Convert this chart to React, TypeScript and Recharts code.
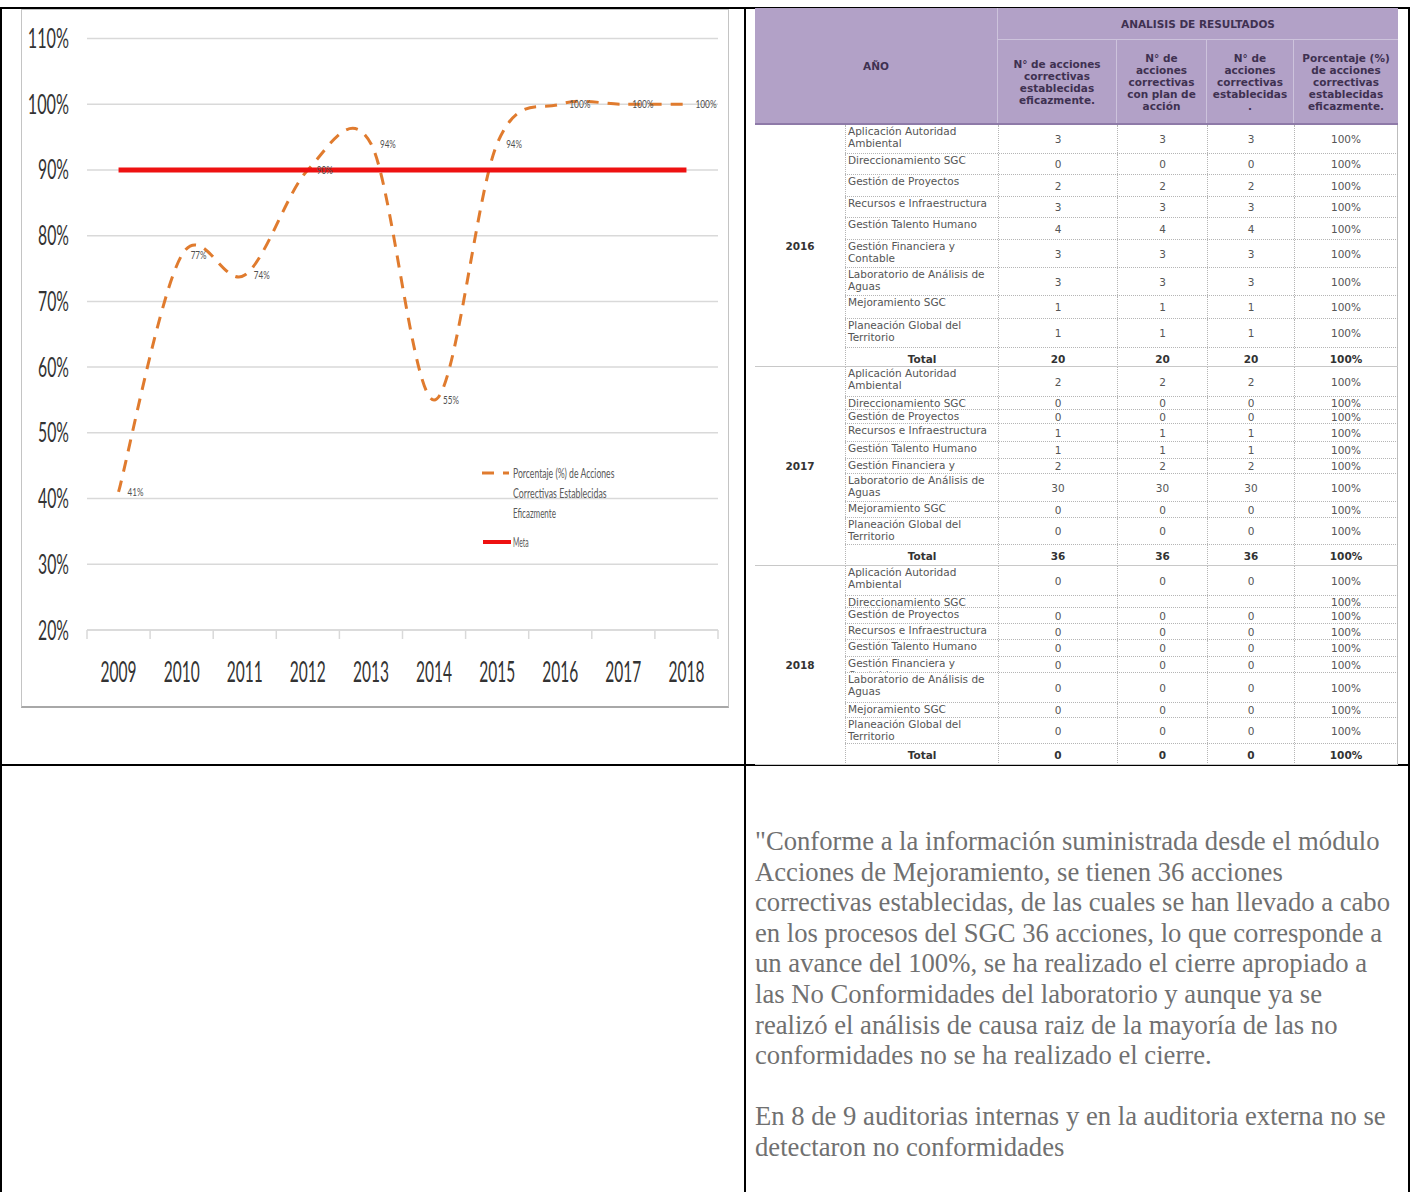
import React from 'react';
import { LineChart, Line, XAxis, YAxis, CartesianGrid, Legend, LabelList } from 'recharts';

// ---------------- chart data ----------------
const years = ['2009', '2010', '2011', '2012', '2013', '2014', '2015', '2016', '2017', '2018'];
const pctEficaz = [41, 77, 74, 90, 94, 55, 94, 100, 100, 100];
const metaValues = [90, 90, 90, 90, 90, 90, 90, 90, 90, 90];
const yTicks = [20, 30, 40, 50, 60, 70, 80, 90, 100, 110];
const SERIES_PCT = 'Porcentaje (%) de Acciones Correctivas Establecidas Eficazmente';
const SERIES_META = 'Meta';
const legendOrder = [SERIES_PCT, SERIES_META];

// ---------------- table data ----------------
const procesos = [
  'Aplicación Autoridad Ambiental',
  'Direccionamiento SGC',
  'Gestión de Proyectos',
  'Recursos e Infraestructura',
  'Gestión Talento Humano',
  'Gestión Financiera y Contable',
  'Laboratorio de Análisis de Aguas',
  'Mejoramiento SGC',
  'Planeación Global del Territorio',
];
const tableYears = ['2016', '2017', '2018'];
const eficaz2016 = [3, 0, 2, 3, 4, 3, 3, 1, 1];
const plan2016 = [3, 0, 2, 3, 4, 3, 3, 1, 1];
const estab2016 = [3, 0, 2, 3, 4, 3, 3, 1, 1];
const eficaz2017 = [2, 0, 0, 1, 1, 2, 30, 0, 0];
const plan2017 = [2, 0, 0, 1, 1, 2, 30, 0, 0];
const estab2017 = [2, 0, 0, 1, 1, 2, 30, 0, 0];
const eficaz2018 = [0, null, 0, 0, 0, 0, 0, 0, 0];
const plan2018 = [0, null, 0, 0, 0, 0, 0, 0, 0];
const estab2018 = [0, null, 0, 0, 0, 0, 0, 0, 0];
const pct2016 = ['100%', '100%', '100%', '100%', '100%', '100%', '100%', '100%', '100%'];
const pct2017 = ['100%', '100%', '100%', '100%', '100%', '100%', '100%', '100%', '100%'];
const pct2018 = ['100%', '100%', '100%', '100%', '100%', '100%', '100%', '100%', '100%'];
const totals2016 = ['20', '20', '20', '100%'];
const totals2017 = ['36', '36', '36', '100%'];
const totals2018 = ['0', '0', '0', '100%'];
const headerTop = 'ANALISIS DE RESULTADOS';
const headerYear = 'AÑO';
const headerCols = [
  ['N° de acciones', 'correctivas', 'establecidas', 'eficazmente.'],
  ['N° de', 'acciones', 'correctivas', 'con plan de', 'acción'],
  ['N° de', 'acciones', 'correctivas', 'establecidas', '.'],
  ['Porcentaje (%)', 'de acciones', 'correctivas', 'establecidas', 'eficazmente.'],
];

// ---------------- text ----------------
const para1 = [
  '"Conforme a la información suministrada desde el módulo',
  'Acciones de Mejoramiento, se tienen 36 acciones',
  'correctivas establecidas, de las cuales se han llevado a cabo',
  'en los procesos del SGC 36 acciones, lo que corresponde a',
  'un avance del 100%, se ha realizado el cierre apropiado a',
  'las No Conformidades del laboratorio y aunque ya se',
  'realizó el análisis de causa raiz de la mayoría de las no',
  'conformidades no se ha realizado el cierre.',
];
const para2 = [
  'En 8 de 9 auditorias internas y en la auditoria externa no se',
  'detectaron no conformidades',
];

// ---------------- layout constants ----------------
const CHART_W = 708;
const CHART_H = 699;
const Y_W = 66;
const X_H = 78;
const M_TOP = 29.5;
const M_RIGHT = 11;
const PLOT_W = CHART_W - Y_W - M_RIGHT;
const BAND = PLOT_W / years.length;
const ORANGE = '#E07B2E';
const RED = '#EE1111';
const GRID = '#d9d9d9';

const COLS = [90, 153, 119, 90, 87, 104];
const HEAD1 = 32;
const HEAD2 = 83;
const blockRowHeights = [
  [29, 21, 22, 21, 22, 28, 28, 23, 29, 21],
  [30, 13, 14, 18, 17, 15, 28, 16, 27, 21],
  [30, 12, 16, 16, 17, 16, 30, 15, 26, 21],
];

const chartData = years.map((y, i) => ({ year: y, pct: pctEficaz[i], meta: metaValues[i] }));

// Excel-like smoothing (cardinal spline, tension 0)
const excelSmooth: any = (context: any) => {
  let pts: number[][] = [];
  return {
    areaStart() {},
    areaEnd() {},
    lineStart() {
      pts = [];
    },
    point(x: number, y: number) {
      pts.push([+x, +y]);
    },
    lineEnd() {
      const n = pts.length;
      if (!n) return;
      context.moveTo(pts[0][0], pts[0][1]);
      for (let i = 0; i < n - 1; i++) {
        const p0 = pts[Math.max(i - 1, 0)];
        const p1 = pts[i];
        const p2 = pts[i + 1];
        const p3 = pts[Math.min(i + 2, n - 1)];
        context.bezierCurveTo(
          p1[0] + (p2[0] - p0[0]) / 6,
          p1[1] + (p2[1] - p0[1]) / 6,
          p2[0] - (p3[0] - p1[0]) / 6,
          p2[1] - (p3[1] - p1[1]) / 6,
          p2[0],
          p2[1]
        );
      }
    },
  };
};

const narrow = { fontFamily: 'Lato, "Open Sans", sans-serif', lengthAdjust: 'spacingAndGlyphs' as const };

const YTick = (props: any) => {
  const { x, y, payload } = props;
  const label = `${payload.value}%`;
  return (
    <text x={x} y={y} dy={9.5} textAnchor="end" fontSize={27} fill="#333" {...narrow} textLength={label.length * 10.3}>
      {label}
    </text>
  );
};

const XTick = (props: any) => {
  const { x, y, payload } = props;
  const half = BAND / 2;
  const isLast = payload.value === years[years.length - 1];
  return (
    <g>
      <line x1={x - half} x2={x - half} y1={y} y2={y + 9} stroke={GRID} strokeWidth={1.5} />
      {isLast && <line x1={x + half} x2={x + half} y1={y} y2={y + 9} stroke={GRID} strokeWidth={1.5} />}
      <text x={x} y={y + 52} textAnchor="middle" fontSize={28} fill="#333" {...narrow} textLength={36}>
        {payload.value}
      </text>
    </g>
  );
};

const PctLabel = (props: any) => {
  const { x, y, value } = props;
  const label = `${value}%`;
  return (
    <text x={x + 9} y={y} dy={4} fontSize={12} fill="#505050" {...narrow} textLength={label.length * 5.3}>
      {label}
    </text>
  );
};

const wrapWords = (s: string, max: number) => {
  const words = s.split(' ');
  const lines: string[] = [];
  let cur = '';
  words.forEach((w) => {
    const next = cur ? `${cur} ${w}` : w;
    if (next.length > max && cur) {
      lines.push(cur);
      cur = w;
    } else cur = next;
  });
  if (cur) lines.push(cur);
  return lines;
};

const LegendContent = (props: any) => {
  const payload = [...(props.payload || [])].sort(
    (a: any, b: any) => legendOrder.indexOf(String(a.value)) - legendOrder.indexOf(String(b.value))
  );
  let cy = 21;
  const items: any[] = [];
  payload.forEach((entry: any, i: number) => {
    const lines = wrapWords(String(entry.value), 26);
    const dashed = entry.payload && entry.payload.strokeDasharray;
    items.push(
      <g key={i}>
        {dashed ? (
          <g>
            <line x1={1} x2={13} y1={cy} y2={cy} stroke={entry.color} strokeWidth={3} />
            <line x1={22} x2={28} y1={cy} y2={cy} stroke={entry.color} strokeWidth={3} />
          </g>
        ) : (
          <line x1={2} x2={30} y1={cy} y2={cy} stroke={entry.color} strokeWidth={4} />
        )}
        {lines.map((ln, j) => (
          <text key={j} x={32} y={cy + j * 20} dy={4.5} fontSize={13} fill="#595959" {...narrow} textLength={ln.length * 3.9}>
            {ln}
          </text>
        ))}
      </g>
    );
    cy += lines.length * 20 + 9;
  });
  return (
    <svg width={170} height={110} style={{ display: 'block' }}>
      {items}
    </svg>
  );
};

const Chart = () => (
  <LineChart width={CHART_W} height={CHART_H} data={chartData} margin={{ top: M_TOP, right: M_RIGHT, bottom: 0, left: 0 }}>
    <CartesianGrid vertical={false} stroke={GRID} strokeWidth={1.5} />
    <XAxis
      dataKey="year"
      height={X_H}
      padding={{ left: BAND / 2, right: BAND / 2 }}
      axisLine={{ stroke: GRID, strokeWidth: 1.5 }}
      tickLine={false}
      tickSize={0}
      tickMargin={0}
      interval={0}
      tick={<XTick />}
    />
    <YAxis
      domain={[20, 110]}
      ticks={yTicks}
      width={Y_W}
      axisLine={false}
      tickLine={false}
      tickSize={0}
      tickMargin={18}
      interval={0}
      tick={<YTick />}
    />
    <Line
      dataKey="pct"
      name={SERIES_PCT}
      type={excelSmooth}
      stroke={ORANGE}
      strokeWidth={3}
      strokeDasharray="12 9"
      dot={false}
      activeDot={false}
      isAnimationActive={false}
    >
      <LabelList dataKey="pct" content={<PctLabel />} />
    </Line>
    <Line
      dataKey="meta"
      name={SERIES_META}
      type="linear"
      stroke={RED}
      strokeWidth={5}
      dot={false}
      activeDot={false}
      isAnimationActive={false}
    />
    <Legend
      layout="vertical"
      align="center"
      verticalAlign="middle"
      wrapperStyle={{ left: 460, top: 443, width: 170 }}
      content={<LegendContent />}
    />
  </LineChart>
);

// ---------------- table ----------------
const tFont = '"DejaVu Sans", Verdana, sans-serif';
const HEAD_BG = '#b2a1c7';
const HEAD_TXT = '#3f3151';
const HEAD_LINE = '#cdc3dc';
const GRID_T = '1px dotted #b5b5b5';

const blockData = [
  { eficaz: eficaz2016, plan: plan2016, estab: estab2016, pct: pct2016, totals: totals2016 },
  { eficaz: eficaz2017, plan: plan2017, estab: estab2017, pct: pct2017, totals: totals2017 },
  { eficaz: eficaz2018, plan: plan2018, estab: estab2018, pct: pct2018, totals: totals2018 },
];

const numCell = (content: any, w: number, bold: boolean, key: string, last = false) => (
  <div
    key={key}
    style={{
      width: w,
      height: '100%',
      display: 'flex',
      alignItems: 'center',
      justifyContent: 'center',
      borderLeft: GRID_T,
      borderRight: last ? '1px solid #bdbdbd' : undefined,
      boxSizing: 'border-box',
      fontWeight: bold ? 'bold' : 'normal',
      color: bold ? '#333' : '#555',
    }}
  >
    {content === null || content === undefined ? '' : content}
  </div>
);

const ResultsTable = () => {
  const tableW = COLS.reduce((a, b) => a + b, 0);
  return (
    <div style={{ position: 'absolute', left: 755, top: 8, width: tableW, fontFamily: tFont, fontSize: 10.5 }}>
      {/* header */}
      <div style={{ position: 'relative', height: HEAD1 + HEAD2, background: HEAD_BG, color: HEAD_TXT, fontWeight: 'bold' }}>
        <div
          style={{
            position: 'absolute',
            left: 0,
            top: 0,
            width: COLS[0] + COLS[1],
            height: HEAD1 + HEAD2,
            display: 'flex',
            alignItems: 'center',
            justifyContent: 'center',
            borderRight: `1px solid ${HEAD_LINE}`,
            boxSizing: 'border-box',
          }}
        >
          {headerYear}
        </div>
        <div
          style={{
            position: 'absolute',
            left: COLS[0] + COLS[1],
            top: 0,
            width: tableW - COLS[0] - COLS[1],
            height: HEAD1,
            display: 'flex',
            alignItems: 'center',
            justifyContent: 'center',
            borderBottom: `1px solid ${HEAD_LINE}`,
            boxSizing: 'border-box',
          }}
        >
          {headerTop}
        </div>
        {headerCols.map((lines, i) => {
          const left = COLS.slice(0, i + 2).reduce((a, b) => a + b, 0);
          return (
            <div
              key={i}
              style={{
                position: 'absolute',
                left,
                top: HEAD1,
                width: COLS[i + 2],
                height: HEAD2,
                display: 'flex',
                flexDirection: 'column',
                alignItems: 'center',
                justifyContent: 'center',
                borderRight: i < 3 ? `1px solid ${HEAD_LINE}` : undefined,
                boxSizing: 'border-box',
                lineHeight: '12px',
                textAlign: 'center',
              }}
            >
              {lines.map((l, j) => (
                <div key={j}>{l}</div>
              ))}
            </div>
          );
        })}
      </div>
      <div style={{ height: 2, background: '#8e7aa8' }} />
      {/* body */}
      {tableYears.map((yr, b) => {
        const hs = blockRowHeights[b];
        const total = hs.reduce((a, c) => a + c, 0);
        const d = blockData[b];
        return (
          <div key={yr} style={{ display: 'flex', height: total - (b === 0 ? 2 : 0), borderBottom: '1px solid #c8c8c8', boxSizing: 'border-box', overflow: 'hidden' }}>
            <div
              style={{
                width: COLS[0],
                display: 'flex',
                alignItems: 'center',
                justifyContent: 'center',
                fontWeight: 'bold',
                color: '#333',
              }}
            >
              {yr}
            </div>
            <div style={{ width: tableW - COLS[0] }}>
              {hs.map((h, r) => {
                const isTotal = r === procesos.length;
                return (
                  <div
                    key={r}
                    style={{
                      display: 'flex',
                      height: h,
                      borderBottom: r < hs.length - 1 ? GRID_T : undefined,
                      boxSizing: 'border-box',
                    }}
                  >
                    <div
                      style={{
                        width: COLS[1],
                        height: '100%',
                        borderLeft: GRID_T,
                        boxSizing: 'border-box',
                        padding: isTotal ? 0 : '0 2px',
                        overflow: 'hidden',
                        lineHeight: '12px',
                        color: isTotal ? '#333' : '#555',
                        fontWeight: isTotal ? 'bold' : 'normal',
                        textAlign: isTotal ? 'center' : 'left',
                        display: isTotal ? 'flex' : 'block',
                        alignItems: 'center',
                        justifyContent: 'center',
                      }}
                    >
                      {isTotal ? 'Total' : procesos[r]}
                    </div>
                    {isTotal
                      ? d.totals.map((t, k) => numCell(t, COLS[k + 2], true, `t${k}`, k === 3))
                      : [
                          numCell(d.eficaz[r], COLS[2], false, 'a'),
                          numCell(d.plan[r], COLS[3], false, 'b'),
                          numCell(d.estab[r], COLS[4], false, 'c'),
                          numCell(d.pct[r], COLS[5], false, 'd', true),
                        ]}
                  </div>
                );
              })}
            </div>
          </div>
        );
      })}
    </div>
  );
};

const TextBlock = () => (
  <div
    style={{
      position: 'absolute',
      left: 755,
      top: 826,
      fontFamily: '"Liberation Serif", "Times New Roman", serif',
      fontSize: 26.67,
      lineHeight: '30.6px',
      color: '#707070',
      whiteSpace: 'nowrap',
    }}
  >
    {para1.map((l, i) => (
      <div key={i}>{l}</div>
    ))}
    <div>&nbsp;</div>
    {para2.map((l, i) => (
      <div key={`b${i}`}>{l}</div>
    ))}
  </div>
);

export default function App() {
  return (
    <div style={{ position: 'absolute', left: 0, top: 0, width: 1412, height: 1192, background: '#fff', overflow: 'hidden' }}>
      {/* outer layout table borders */}
      <div style={{ position: 'absolute', left: 0, top: 7, width: 1410, height: 1200, border: '2px solid #000', boxSizing: 'border-box' }} />
      <div style={{ position: 'absolute', left: 744, top: 7, width: 2, height: 1190, background: '#000' }} />
      <div style={{ position: 'absolute', left: 0, top: 764, width: 1410, height: 2, background: '#000' }} />
      {/* chart frame */}
      <div style={{ position: 'absolute', left: 21, top: 9, width: CHART_W, height: CHART_H, border: '1px solid #c4c4c4', borderBottom: '2px solid #a8a8a8', boxSizing: 'border-box', background: '#fff' }} />
      <div style={{ position: 'absolute', left: 21, top: 9 }}>
        <Chart />
      </div>
      <ResultsTable />
      <TextBlock />
    </div>
  );
}
